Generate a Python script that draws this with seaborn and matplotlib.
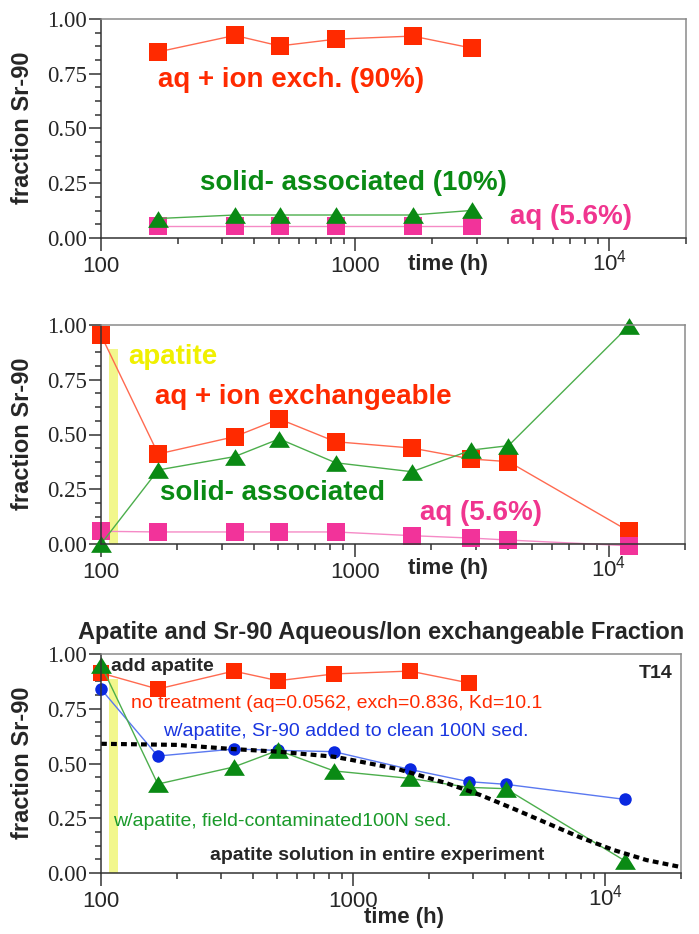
import matplotlib
matplotlib.use('Agg')
import matplotlib.pyplot as plt
import matplotlib.ticker as mticker
import matplotlib.transforms as mtrans
import seaborn as sns

# ---- data ----
t_top = [168, 336, 504, 840, 1680, 2880]
top_aq_ion = [0.850, 0.925, 0.877, 0.908, 0.922, 0.867]
top_solid = [0.089, 0.105, 0.105, 0.105, 0.105, 0.126]
top_aq = [0.056, 0.056, 0.056, 0.056, 0.056, 0.056]

t_mid = [100, 168, 336, 504, 840, 1680, 2880, 4032, 12000]
mid_aq_ion = [0.954, 0.411, 0.490, 0.571, 0.467, 0.438, 0.388, 0.376, 0.059]
mid_solid = [0.000, 0.338, 0.399, 0.480, 0.371, 0.330, 0.429, 0.449, 0.995]
mid_aq = [0.058, 0.055, 0.055, 0.055, 0.055, 0.038, 0.027, 0.018, -0.008]

t_bot_red = [100, 168, 336, 504, 840, 1680, 2880]
bot_no_treat = [0.913, 0.840, 0.922, 0.878, 0.909, 0.922, 0.868]
t_bot = [100, 168, 336, 504, 840, 1680, 2880, 4032, 12000]
bot_clean = [0.840, 0.534, 0.566, 0.560, 0.554, 0.473, 0.417, 0.405, 0.336]
bot_field = [0.950, 0.406, 0.484, 0.560, 0.466, 0.432, 0.391, 0.385, 0.055]

t_model = [100, 200, 333, 504, 840, 1000, 1500, 2350, 3200, 4300, 5900, 7950, 10800, 14600, 20000]
model = [0.590, 0.585, 0.566, 0.554, 0.531, 0.515, 0.475, 0.410, 0.356, 0.295, 0.227, 0.163, 0.105, 0.059, 0.027]

apatite_t = [108, 117]
apatite_top_mid = 0.89
apatite_top_bot = 0.886

xticks = [100, 1000, 10000]
xticklabels = ['100', '1000', r'$\mathregular{10^4}$']
yticks = [0.0, 0.25, 0.5, 0.75, 1.0]

# colours
red_m, red_l = '#ff2a00', '#ff6a50'
green_m, green_l = '#0a8a14', '#4cae4c'
pink_m, pink_l = '#f2339a', '#f58ac6'
blue_m, blue_l = '#0a28e0', '#5a78f0'

# wide, flat triangle like the original
tri = [(0, 0.8), (-1, -0.8), (1, -0.8), (0, 0.8)]

sns.set_style('ticks')
plt.rcParams['font.family'] = ['Liberation Sans', 'DejaVu Sans']
plt.rcParams['mathtext.fontset'] = 'custom'
plt.rcParams['mathtext.rm'] = 'Liberation Sans'

fig = plt.figure(figsize=(6.99, 9.34), dpi=100)
ax1 = fig.add_axes([101 / 699, 1 - 238 / 934, 585 / 699, 219 / 934])
ax2 = fig.add_axes([101 / 699, 1 - 544 / 934, 584 / 699, 219 / 934])
ax3 = fig.add_axes([101 / 699, 1 - 873 / 934, 580 / 699, 219 / 934])


def series(ax, t, v, lc, mc, marker, ms):
    sns.lineplot(x=t, y=v, ax=ax, color=lc, lw=1, sort=False, estimator=None,
                 marker=marker, markersize=ms, markerfacecolor=mc,
                 markeredgecolor=mc, markeredgewidth=0, clip_on=False)


def style(ax):
    ax.set_xscale('log')
    ax.set_xlim(100, 20000)
    ax.set_ylim(0, 1)
    ax.set_xticks(xticks)
    ax.set_xticklabels(xticklabels)
    ax.xaxis.set_minor_locator(mticker.LogLocator(base=10, subs=range(2, 10)))
    ax.xaxis.set_minor_formatter(mticker.NullFormatter())
    ax.set_yticks(yticks)
    ax.yaxis.set_major_formatter(mticker.FormatStrFormatter('%.2f'))
    ax.yaxis.set_minor_locator(mticker.MultipleLocator(0.0625))
    for lab in ax.get_yticklabels():
        lab.set_family('Liberation Serif')
        lab.set_fontsize(16.5)
    for lab in ax.get_xticklabels():
        lab.set_fontsize(16)
    ax.tick_params(which='major', length=9, width=1.1, color='#333333')
    ax.tick_params(which='minor', length=4.5, width=1.1, color='#333333')
    ax.tick_params(axis='y', pad=1)
    ax.tick_params(axis='x', pad=4)
    # lift the 10^4 label so that "10" sits on the same line as 100 / 1000
    lab4 = ax.get_xticklabels()[2]
    lab4.set_transform(lab4.get_transform() +
                       mtrans.ScaledTranslation(0, 5 / 72, fig.dpi_scale_trans))
    for s in ['top', 'right']:
        ax.spines[s].set_color('#8a8a8a')
        ax.spines[s].set_linewidth(1.1)
    for s in ['left', 'bottom']:
        ax.spines[s].set_color('#333333')
        ax.spines[s].set_linewidth(1.1)
    ax.set_xlabel('')
    ax.set_ylabel('')
    ax.text(-0.135, 0.505, 'fraction Sr-90', transform=ax.transAxes, rotation=90,
            ha='center', va='center', fontsize=17, fontweight='bold')


big = dict(fontsize=20, fontweight='bold', va='center', ha='left')

# ---- top panel ----
series(ax1, t_top, top_aq_ion, red_l, red_m, 's', 12.5)
series(ax1, t_top, top_aq, pink_l, pink_m, 's', 12.5)
series(ax1, t_top, top_solid, green_l, green_m, tri, 15)
style(ax1)
ax1.text(0.0974, 0.721, 'aq + ion exch. (90%)', color=red_m, transform=ax1.transAxes, **big)
ax1.text(0.169, 0.251, 'solid- associated (10%)', color=green_m, transform=ax1.transAxes, **big)
ax1.text(0.699, 0.096, 'aq (5.6%)', color='#f0358f', transform=ax1.transAxes, **big)
ax1.text(0.525, -0.123, 'time (h)', transform=ax1.transAxes, fontsize=16,
         fontweight='bold', va='center', ha='left')

# ---- middle panel ----
ax2.fill_between(apatite_t, 0, apatite_top_mid, color='#f2f78c', lw=0, zorder=1)
series(ax2, t_mid, mid_aq_ion, red_l, red_m, 's', 12.5)
series(ax2, t_mid, mid_aq, pink_l, pink_m, 's', 12.5)
series(ax2, t_mid, mid_solid, green_l, green_m, tri, 15)
style(ax2)
ax2.text(0.046, 0.854, 'apatite', color='#f0f000', transform=ax2.transAxes, **big)
ax2.text(0.092, 0.671, 'aq + ion exchangeable', color=red_m, transform=ax2.transAxes, **big)
ax2.text(0.101, 0.233, 'solid- associated', color=green_m, transform=ax2.transAxes, **big)
ax2.text(0.546, 0.142, 'aq (5.6%)', color='#f0358f', transform=ax2.transAxes, **big)
ax2.text(0.526, -0.11, 'time (h)', transform=ax2.transAxes, fontsize=16,
         fontweight='bold', va='center', ha='left')

# ---- bottom panel ----
ax3.fill_between(apatite_t, 0, apatite_top_bot, color='#f2f78c', lw=0, zorder=1)
series(ax3, t_bot_red, bot_no_treat, red_l, red_m, 's', 11)
series(ax3, t_bot, bot_clean, blue_l, blue_m, 'o', 9)
sns.lineplot(x=t_model, y=model, ax=ax3, color='black', lw=3, sort=False,
             estimator=None, zorder=2.5, dashes=False, linestyle=(0, (1.4, 1.0)))
series(ax3, t_bot, bot_field, green_l, green_m, tri, 15)
style(ax3)
ax3.text(0.4836, 1.10, 'Apatite and Sr-90 Aqueous/Ion exchangeable Fraction',
         transform=ax3.transAxes, fontsize=17, fontweight='bold', ha='center', va='center')
small = dict(fontsize=14, va='center', ha='left')
ax3.text(0.0172, 0.941, 'add apatite', transform=ax3.transAxes, fontweight='bold', **small)
ax3.text(0.9845, 0.913, 'T14', transform=ax3.transAxes, fontsize=14, fontweight='bold',
         va='center', ha='right')
ax3.text(0.0517, 0.772, 'no treatment (aq=0.0562, exch=0.836, Kd=10.1', color=red_m,
         transform=ax3.transAxes, **small)
ax3.text(0.107, 0.644, 'w/apatite, Sr-90 added to clean 100N sed.', color='#1a36e0',
         transform=ax3.transAxes, **small)
ax3.text(0.0207, 0.237, 'w/apatite, field-contaminated100N sed.', color='#1a9a2a',
         transform=ax3.transAxes, **small)
ax3.text(0.188, 0.082, 'apatite solution in entire experiment', transform=ax3.transAxes,
         fontweight='bold', **small)
ax3.text(0.523, -0.205, 'time (h)', transform=ax3.transAxes, fontsize=16,
         fontweight='bold', va='center', ha='center')

fig.savefig('out.png', dpi=100)
